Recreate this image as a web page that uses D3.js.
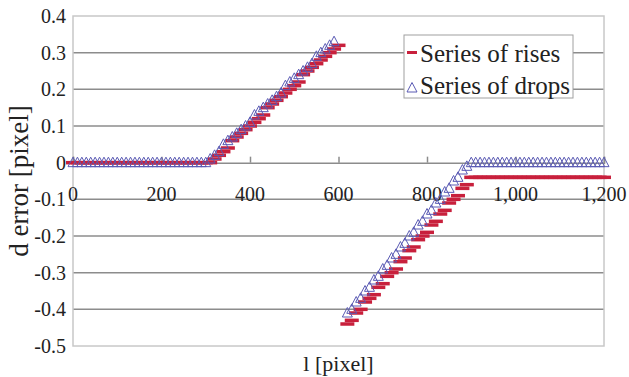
<!DOCTYPE html>
<html><head><meta charset="utf-8">
<script src="https://cdn.jsdelivr.net/npm/d3@7"></script>
<style>body{margin:0;background:#fff}svg{display:block}</style>
</head><body>
<svg id="c" width="629" height="377"></svg>
<script>
// l [pixel] positions (x values)
const lValues = [0,10,20,30,40,50,60,70,80,90,100,110,120,130,140,150,160,170,180,190,
200,210,220,230,240,250,260,270,280,290,300,310,320,330,340,350,360,370,380,390,
400,410,420,430,440,450,460,470,480,490,500,510,520,530,540,550,560,570,580,590,
600,610,620,630,640,650,660,670,680,690,700,710,720,730,740,750,760,770,780,790,
800,810,820,830,840,850,860,870,880,890,900,910,920,930,940,950,960,970,980,990,
1000,1010,1020,1030,1040,1050,1060,1070,1080,1090,1100,1110,1120,1130,1140,1150,1160,1170,1180,1190,1200];

// Series of rises (red dashes)
const risesValues = [0,0,0,0,0,0,0,0,0,0,0,0,0,0,0,0,0,0,0,0,
0,0,0,0,0,0,0,0,0,0,0,0,
0.01,0.02,0.03,0.04,0.06,0.07,0.08,0.09,0.10,0.11,0.12,0.13,0.15,0.16,0.17,0.18,0.19,0.20,0.21,0.22,0.24,0.25,0.26,0.27,0.28,0.29,0.30,0.31,0.32,
null,
-0.44,-0.43,-0.41,-0.40,-0.38,-0.37,-0.36,-0.34,-0.33,-0.31,-0.30,-0.29,-0.27,-0.26,-0.24,-0.23,-0.21,-0.20,-0.19,-0.17,-0.16,-0.14,-0.13,-0.11,-0.10,-0.09,-0.07,-0.06,-0.04,
-0.04,-0.04,-0.04,-0.04,-0.04,-0.04,-0.04,-0.04,-0.04,-0.04,-0.04,-0.04,-0.04,-0.04,-0.04,
-0.04,-0.04,-0.04,-0.04,-0.04,-0.04,-0.04,-0.04,-0.04,-0.04,-0.04,-0.04,-0.04,-0.04,-0.04];

// Series of drops (open triangles)
const dropsValues = [0,0,0,0,0,0,0,0,0,0,0,0,0,0,0,0,0,0,0,0,
0,0,0,0,0,0,0,0,0,0,0,
0.01,0.02,0.03,0.05,0.06,0.07,0.08,0.09,0.10,0.11,0.13,0.14,0.15,0.16,0.17,0.18,0.19,0.21,0.22,0.23,0.24,0.25,0.26,0.27,0.29,0.30,0.31,0.32,0.33,
null,null,
-0.41,-0.40,-0.38,-0.37,-0.35,-0.34,-0.32,-0.31,-0.29,-0.28,-0.26,-0.25,-0.23,-0.22,-0.20,-0.19,-0.17,-0.16,-0.14,-0.13,-0.11,-0.10,-0.08,-0.07,-0.05,-0.04,-0.02,-0.01,
0,0,0,0,0,0,0,0,0,0,0,0,0,0,0,0,0,0,0,0,0,0,0,0,0,0,0,0,0,0,0];

const xTicks = [0,200,400,600,800,1000,1200];
const xTickLabels = ["0","200","400","600","800","1,000","1,200"];
const yTicks = [0.4,0.3,0.2,0.1,0,-0.1,-0.2,-0.3,-0.4,-0.5];
const yTickLabels = ["0.4","0.3","0.2","0.1","0","-0.1","-0.2","-0.3","-0.4","-0.5"];
const seriesNames = ["Series of rises","Series of drops"];

const svg = d3.select("#c");
const FONT = "'Liberation Serif','Times New Roman',serif";
const L = 73, R = 604, T = 16, B = 346;
const x = d3.scaleLinear().domain([0,1200]).range([L,R]);
const y = d3.scaleLinear().domain([-0.5,0.4]).range([B,T]);

// gridlines
svg.append("g").selectAll("line").data(yTicks.filter(v => v!==0 && v!==0.4 && v!==-0.5))
  .join("line")
  .attr("x1",L).attr("x2",R)
  .attr("y1",d=>y(d)).attr("y2",d=>y(d))
  .attr("stroke","#8c8c8c").attr("stroke-width",1.5);

// frame
svg.append("rect").attr("x",L).attr("y",T).attr("width",R-L).attr("height",B-T)
  .attr("fill","none").attr("stroke","#c8c8c8").attr("stroke-width",1.5);

// x axis at y=0
const xAxis = d3.axisBottom(x).tickValues(xTicks).tickSize(-6).tickFormat("");
const gx = svg.append("g").attr("transform",`translate(0,${y(0)})`).call(xAxis);
gx.select(".domain").attr("stroke","#8c8c8c").attr("stroke-width",1.5);
gx.selectAll(".tick line").attr("stroke","#8c8c8c").attr("stroke-width",1.5);

// x tick labels
svg.append("g").selectAll("text").data(xTicks).join("text")
  .attr("x",d=>x(d)).attr("y",201)
  .attr("text-anchor","middle")
  .attr("font-family",FONT).attr("font-size",20).attr("fill","#222")
  .text((d,i)=>xTickLabels[i]);

// y tick labels
const yAxis = d3.axisLeft(y).tickValues(yTicks).tickSize(0).tickPadding(7)
  .tickFormat((d,i)=>yTickLabels[i]);
const gy = svg.append("g").attr("transform",`translate(${L},0)`).call(yAxis);
gy.select(".domain").remove();
gy.selectAll("text").attr("font-family",FONT).attr("font-size",20).attr("fill","#222");

const RED = "#c8203c", BLUE = "#5a5ab4";

// rises: red dash markers
const risesData = lValues.map((l,i)=>({l, v:risesValues[i]})).filter(d=>d.v!==null);
svg.append("g").selectAll("rect").data(risesData).join("rect")
  .attr("x",d=>x(d.l)-7).attr("y",d=>y(d.v)-1.75)
  .attr("width",14).attr("height",3.5)
  .attr("fill",RED);

// drops: open triangles
const tri = "M0,-5.5L5,4L-5,4Z";
const dropsData = lValues.map((l,i)=>({l, v:dropsValues[i]})).filter(d=>d.v!==null);
svg.append("g").selectAll("path").data(dropsData).join("path")
  .attr("transform",d=>`translate(${x(d.l)},${y(d.v)})`)
  .attr("d",tri).attr("fill","none").attr("stroke",BLUE).attr("stroke-width",1);

// legend
const lg = svg.append("g");
lg.append("rect").attr("x",404).attr("y",35).attr("width",169).attr("height",63)
  .attr("fill","#fff").attr("stroke","#a0a0a0").attr("stroke-width",1);
lg.append("rect").attr("x",407).attr("y",51).attr("width",10).attr("height",3).attr("fill",RED);
lg.append("path").attr("transform","translate(412,88)").attr("d",tri)
  .attr("fill","none").attr("stroke",BLUE).attr("stroke-width",1);
lg.selectAll("text.lt").data(seriesNames).join("text").attr("class","lt")
  .attr("x",420).attr("y",(d,i)=>53+i*32).attr("dy","0.35em")
  .attr("font-family",FONT).attr("font-size",25).attr("fill","#222")
  .text(d=>d);

// axis titles
svg.append("text").attr("transform",`translate(28,${(T+B)/2}) rotate(-90)`)
  .attr("text-anchor","middle")
  .attr("font-family",FONT).attr("font-size",27).attr("fill","#222")
  .text("d error [pixel]");
svg.append("text").attr("x",(L+R)/2).attr("y",371).attr("text-anchor","middle")
  .attr("font-family",FONT).attr("font-size",22).attr("fill","#222")
  .text("l [pixel]");
</script>
</body></html>
